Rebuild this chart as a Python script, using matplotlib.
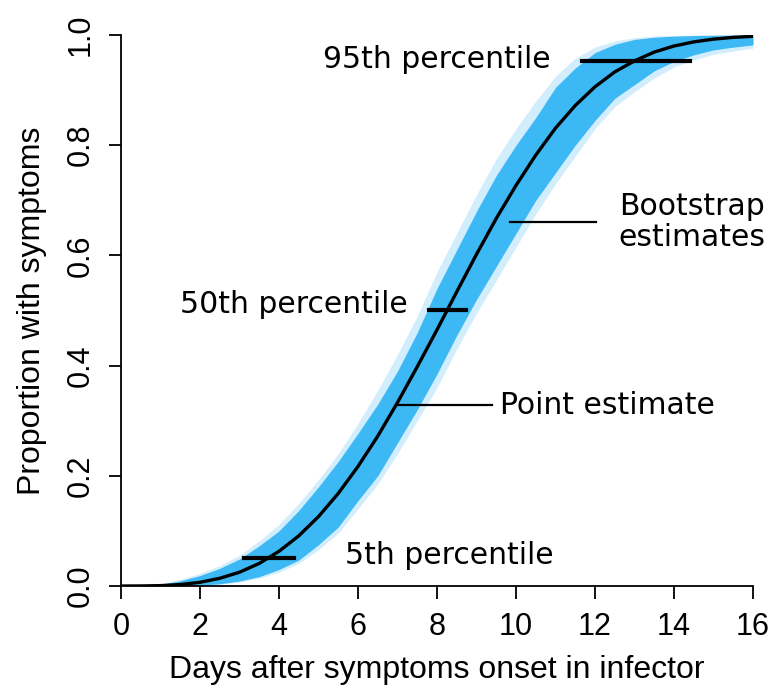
import numpy as np
import matplotlib.pyplot as plt

# days grid and curves
days = [0, 0.5, 1, 1.5, 2, 2.5, 3, 3.5, 4, 4.5, 5, 5.5, 6, 6.5, 7, 7.5, 8,
        8.5, 9, 9.5, 10, 10.5, 11, 11.5, 12, 12.5, 13, 13.5, 14, 14.5, 15, 15.5, 16]
point_est = [0, 0.0001, 0.0007, 0.0026, 0.0067, 0.014, 0.025, 0.041, 0.063, 0.091,
             0.126, 0.168, 0.217, 0.272, 0.333, 0.398, 0.465, 0.534, 0.602, 0.667,
             0.727, 0.782, 0.831, 0.872, 0.906, 0.933, 0.953, 0.969, 0.980, 0.9875,
             0.9925, 0.9957, 0.9976]
# bootstrap envelope, dense core
boot_hi = [0, 0.0005, 0.003, 0.0095, 0.019, 0.032, 0.049, 0.073, 0.100, 0.137,
           0.180, 0.226, 0.277, 0.33, 0.39, 0.46, 0.54, 0.61, 0.68, 0.745,
           0.80, 0.85, 0.905, 0.94, 0.968, 0.983, 0.992, 0.996, 0.998, 0.999,
           0.9995, 0.9998, 0.9999]
boot_lo = [0, 0, 0.0001, 0.0005, 0.0015, 0.004, 0.009, 0.017, 0.03, 0.047,
           0.075, 0.107, 0.155, 0.20, 0.26, 0.32, 0.385, 0.455, 0.52, 0.58,
           0.64, 0.70, 0.75, 0.80, 0.845, 0.885, 0.91, 0.935, 0.952, 0.964,
           0.973, 0.978, 0.982]
# faint outliers
boot_hi_out = [0, 0.001, 0.004, 0.012, 0.023, 0.037, 0.056, 0.082, 0.112, 0.15,
               0.193, 0.24, 0.295, 0.355, 0.42, 0.49, 0.57, 0.64, 0.71, 0.775,
               0.83, 0.88, 0.925, 0.958, 0.978, 0.989, 0.995, 0.998, 0.999, 1.0,
               1.0, 1.0, 1.0]
boot_lo_out = [0, 0, 0, 0.0003, 0.001, 0.003, 0.007, 0.014, 0.025, 0.041,
               0.066, 0.096, 0.14, 0.185, 0.24, 0.30, 0.36, 0.43, 0.495, 0.555,
               0.615, 0.675, 0.73, 0.78, 0.83, 0.87, 0.897, 0.922, 0.942, 0.955,
               0.965, 0.971, 0.976]

# percentile bars: level, left, right
pct_level = [0.05, 0.50, 0.953]
pct_left = [3.11, 7.80, 11.67]
pct_right = [4.38, 8.73, 14.40]

fig = plt.figure(figsize=(7.72, 6.94), dpi=100)
ax = fig.add_axes([121/772, 108/694, 632/772, 551/694])

ax.fill_between(days, boot_lo_out, boot_hi_out, color='#d2edfc', lw=0)
ax.fill_between(days, boot_lo, boot_hi, color='#3cb8f4', lw=0)
ax.plot(days, point_est, color='black', lw=2.4, zorder=3)

for lv, l, r in zip(pct_level, pct_left, pct_right):
    ax.plot([l, r], [lv, lv], color='black', lw=3, zorder=4)

# pointer lines
ax.plot([6.96, 9.39], [0.328, 0.328], color='black', lw=1.6)
ax.plot([9.85, 12.03], [0.66, 0.66], color='black', lw=1.6)

tf = dict(family='DejaVu Sans', fontsize=21.5, color='black')
ax.text(10.88, 0.955, '95th percentile', ha='right', va='center', **tf)
ax.text(7.27, 0.51, '50th percentile', ha='right', va='center', **tf)
ax.text(5.67, 0.055, '5th percentile', ha='left', va='center', **tf)
ax.text(9.6, 0.328, 'Point estimate', ha='left', va='center', **tf)
ax.text(12.6, 0.66, 'Bootstrap\nestimates', ha='left', va='center', linespacing=1.1, **tf)

ax.set_xlim(0, 16)
ax.set_ylim(0, 1)
ax.spines['top'].set_visible(False)
ax.spines['right'].set_visible(False)
for s in ['left', 'bottom']:
    ax.spines[s].set_linewidth(1.3)
ax.set_xticks(range(0, 17, 2))
ax.set_yticks([0, 0.2, 0.4, 0.6, 0.8, 1.0])
ax.set_yticklabels(['0.0', '0.2', '0.4', '0.6', '0.8', '1.0'], rotation=90, va='center')
ax.tick_params(length=9, width=1.3, labelsize=22)
ax.tick_params(axis='x', pad=10)
ax.tick_params(axis='y', pad=9)
for lab in ax.get_xticklabels() + ax.get_yticklabels():
    lab.set_family('Liberation Sans')

ax.set_xlabel('Days after symptoms onset in infector', family='Liberation Sans', fontsize=23, labelpad=9)
ax.set_ylabel('Proportion with symptoms', family='Liberation Sans', fontsize=23, labelpad=14)

fig.savefig('out.png', dpi=100)
